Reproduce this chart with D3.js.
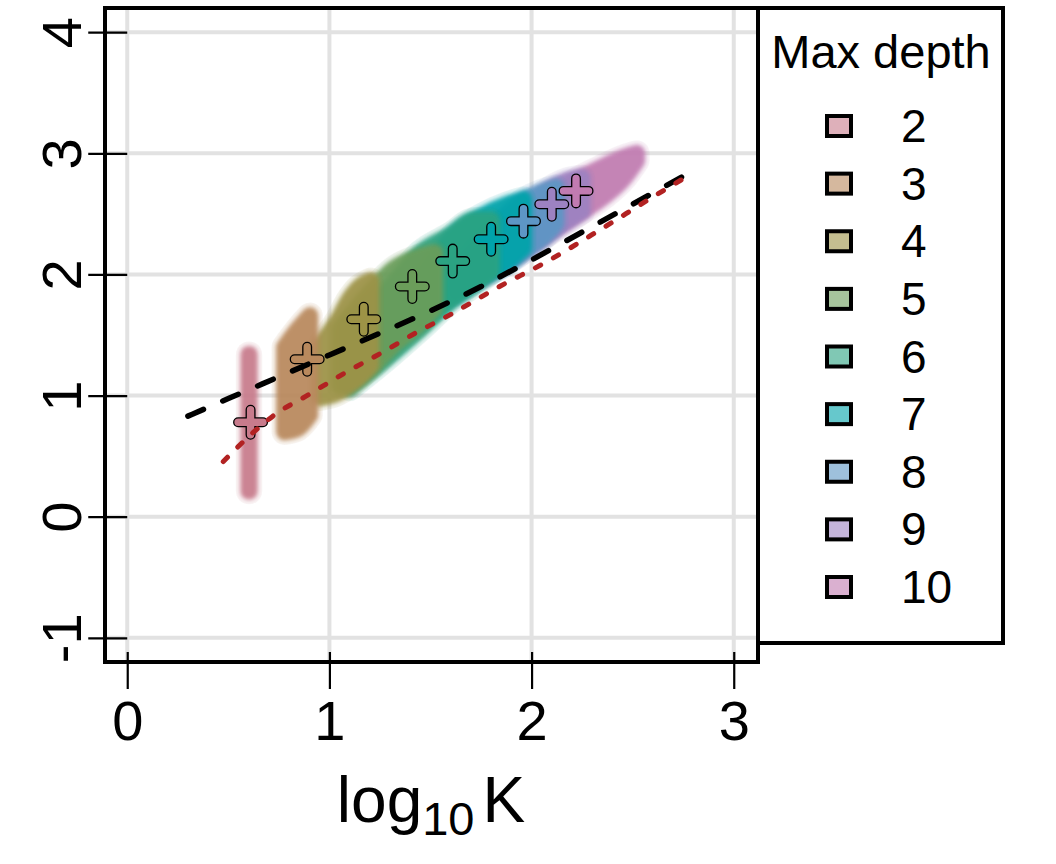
<!DOCTYPE html>
<html><head><meta charset="utf-8">
<script src="https://cdn.jsdelivr.net/npm/d3@7"></script>
<style>body{margin:0;background:#fff} svg{display:block} text{font-family:"Liberation Sans",Arial,sans-serif;fill:#000}</style>
</head><body><svg id="c" width="1056" height="864"></svg>
<script>
// ---- data ----
const depths = ["2","3","4","5","6","7","8","9","10"];
const colors = ["#C87B8C","#B9895D","#9D9346","#6B9D5A","#2BA382","#00A3AA","#5D96C5","#9D82C1","#C17BB1"];
const meanX = [0.61, 0.89, 1.17, 1.41, 1.61, 1.80, 1.96, 2.10, 2.22];
const meanY = [0.78, 1.30, 1.63, 1.90, 2.11, 2.29, 2.44, 2.58, 2.69];
// cloud envelopes (centres of points) per depth: log10 K, lower and upper log10 value
const cloudXs = [
  [0.602, 0.603],
  [0.778, 0.845, 0.903],
  [0.954, 1.04, 1.10, 1.15, 1.204],
  [1.05, 1.20, 1.32, 1.45, 1.52],
  [1.10, 1.30, 1.45, 1.60, 1.72, 1.80],
  [1.45, 1.60, 1.75, 1.88, 1.96],
  [1.62, 1.80, 1.95, 2.08, 2.12],
  [1.72, 1.90, 2.05, 2.18, 2.25],
  [1.82, 2.00, 2.17, 2.34, 2.46, 2.52]
];
const cloudLo = [
  [0.21, 0.21],
  [0.70, 0.73, 0.84],
  [0.98, 1.02, 1.08, 1.15, 1.25],
  [1.08, 1.22, 1.42, 1.60, 1.72],
  [1.06, 1.33, 1.55, 1.78, 1.92, 2.02],
  [1.62, 1.80, 1.98, 2.10, 2.22],
  [1.84, 2.02, 2.18, 2.34, 2.42],
  [1.95, 2.12, 2.30, 2.44, 2.52],
  [2.06, 2.25, 2.44, 2.62, 2.80, 2.94]
];
const cloudHi = [
  [1.34, 1.34],
  [1.40, 1.55, 1.66],
  [1.42, 1.62, 1.80, 1.90, 1.95],
  [1.55, 1.85, 2.05, 2.15, 2.18],
  [1.60, 1.90, 2.18, 2.33, 2.45, 2.45],
  [1.95, 2.30, 2.48, 2.58, 2.62],
  [2.05, 2.38, 2.60, 2.70, 2.72],
  [2.12, 2.42, 2.66, 2.78, 2.80],
  [2.10, 2.42, 2.72, 2.88, 2.97, 3.00]
];
const blackX = [0.30, 0.50, 0.75, 1.00, 1.25, 1.50, 1.75, 2.00, 2.25, 2.50, 2.78];
const blackY = [0.83, 0.975, 1.155, 1.335, 1.515, 1.70, 1.90, 2.12, 2.35, 2.58, 2.84];
const redX = [0.475, 0.60, 0.72, 0.90, 1.08, 1.26, 1.43, 1.60, 1.83, 2.08, 2.34, 2.60, 2.79];
const redY = [0.455, 0.66, 0.83, 1.01, 1.19, 1.355, 1.52, 1.67, 1.89, 2.11, 2.37, 2.64, 2.83];
const xTicks = [0, 1, 2, 3];
const yTicks = [-1, 0, 1, 2, 3, 4];
const xTitle = "log", xTitleSub = "10", xTitleEnd = "K";
const legendTitle = "Max depth";

// ---- drawing ----
const svg = d3.select("#c");
const x = d3.scaleLinear().domain([-0.11, 3.12]).range([105, 758]);
const y = d3.scaleLinear().domain([-1.2, 4.2]).range([662, 8]);

const defs = svg.append("defs");
defs.append("filter").attr("id","soft").attr("filterUnits","userSpaceOnUse")
  .attr("x",0).attr("y",0).attr("width",1056).attr("height",864)
  .append("feGaussianBlur").attr("stdDeviation", 2);
defs.append("clipPath").attr("id","panel").append("rect")
  .attr("x", x.range()[0]).attr("y", y.range()[1]).attr("width", x.range()[1]-x.range()[0]).attr("height", y.range()[0]-y.range()[1]);

// grid
const grid = svg.append("g").attr("clip-path","url(#panel)").attr("stroke","#e2e2e2").attr("stroke-width",4);
grid.selectAll("line.v").data(xTicks).join("line").attr("class","v")
  .attr("x1", d=>x(d)).attr("x2", d=>x(d)).attr("y1", y.range()[1]).attr("y2", y.range()[0]);
grid.selectAll("line.h").data(yTicks).join("line").attr("class","h")
  .attr("y1", d=>y(d)).attr("y2", d=>y(d)).attr("x1", x.range()[0]).attr("x2", x.range()[1]);

// axes
const yAxis = svg.append("g").attr("transform", `translate(${x(0)},0)`)
  .call(d3.axisLeft(y).tickValues(yTicks).tickSize(39).tickFormat(d=>String(d)));
yAxis.select(".domain").remove();
yAxis.selectAll("line").attr("stroke","#000").attr("stroke-width",2.2);
yAxis.selectAll("text").attr("x",null).attr("dy",null)
  .attr("transform","translate(-46,0) rotate(-90)").attr("text-anchor","middle")
  .attr("font-size",56).attr("font-family","Liberation Sans, Arial, sans-serif").attr("fill","#000");

const xAxis = svg.append("g").attr("transform", `translate(0,652)`)
  .call(d3.axisBottom(x).tickValues(xTicks).tickSize(37).tickFormat(d=>String(d)));
xAxis.select(".domain").remove();
xAxis.selectAll("line").attr("stroke","#000").attr("stroke-width",2.2);
xAxis.selectAll("text").attr("y",88).attr("dy",null)
  .attr("font-size",56).attr("font-family","Liberation Sans, Arial, sans-serif").attr("fill","#000");

// clouds (deeper trees first)
const cloudG = svg.append("g").attr("clip-path","url(#panel)");
const area = d3.area().x(d=>x(d[0])).y0(d=>y(d[1])).y1(d=>y(d[2])).curve(d3.curveMonotoneX);
const order = d3.range(depths.length).reverse();
order.forEach(i => {
  const rows = cloudXs[i].map((v,j)=>[v, cloudLo[i][j], cloudHi[i][j]]);
  const path = area(rows);
  const g = cloudG.append("g");
  g.append("path").attr("d", path).attr("fill", colors[i]).attr("stroke", colors[i])
    .attr("stroke-width", 26).attr("stroke-linejoin","round").attr("stroke-linecap","round").attr("opacity", 0.08);
  g.append("path").attr("d", path).attr("fill", colors[i]).attr("stroke", colors[i])
    .attr("stroke-width", 17).attr("stroke-linejoin","round").attr("stroke-linecap","round")
    .attr("opacity", 0.93).attr("filter","url(#soft)");
});

// means
const cross = "M-12.5,0H12.5M0,-12.5V12.5";
const mg = svg.append("g");
meanX.forEach((mx,i) => {
  const g = mg.append("g").attr("transform", `translate(${x(mx)},${y(meanY[i])})`);
  g.append("path").attr("d", cross).attr("stroke","#000").attr("stroke-width",10).attr("stroke-linecap","round").attr("fill","none");
  g.append("path").attr("d", cross).attr("stroke",colors[i]).attr("stroke-width",7.4).attr("stroke-linecap","round").attr("fill","none");
});

// reference lines
const line = d3.line().x(d=>x(d[0])).y(d=>y(d[1])).curve(d3.curveMonotoneX);
svg.append("path").attr("d", line(blackX.map((v,i)=>[v, blackY[i]])))
  .attr("fill","none").attr("stroke","#000").attr("stroke-width",5.5)
  .attr("stroke-linecap","round").attr("stroke-dasharray","17,21");
svg.append("path").attr("d", line(redX.map((v,i)=>[v, redY[i]])))
  .attr("fill","none").attr("stroke","#B22222").attr("stroke-width",5)
  .attr("stroke-linecap","round").attr("stroke-dasharray","6,14.5");

// panel box
svg.append("rect").attr("x", x.range()[0]).attr("y", y.range()[1])
  .attr("width", x.range()[1]-x.range()[0]).attr("height", y.range()[0]-y.range()[1])
  .attr("fill","none").attr("stroke","#000").attr("stroke-width",4);

// x title
const tt = svg.append("text").attr("x", 431).attr("y", 822).attr("text-anchor","middle").attr("font-size",64);
tt.append("tspan").text(xTitle);
tt.append("tspan").attr("font-size",47).attr("dy",13).text(xTitleSub);
tt.append("tspan").attr("dy",-13).attr("dx",8).text(xTitleEnd);

// legend
const lg = svg.append("g");
lg.append("rect").attr("x",758).attr("y",8).attr("width",245).attr("height",635)
  .attr("fill","#fff").attr("stroke","#000").attr("stroke-width",4);
lg.append("text").attr("x",881).attr("y",68).attr("text-anchor","middle").attr("font-size",47).text(legendTitle);
const ly = d3.scalePoint().domain(depths).range([126, 587]);
const items = lg.selectAll("g.it").data(depths).join("g").attr("class","it")
  .attr("transform", d=>`translate(0,${ly(d)})`);
items.append("rect").attr("x",827).attr("y",-10).attr("width",24).attr("height",20)
  .attr("fill",(d,i)=>colors[i]).attr("fill-opacity",0.6).attr("stroke","#000").attr("stroke-width",4);
items.append("text").attr("x",901).attr("y",16).attr("font-size",46).text(d=>d);
</script></body></html>
